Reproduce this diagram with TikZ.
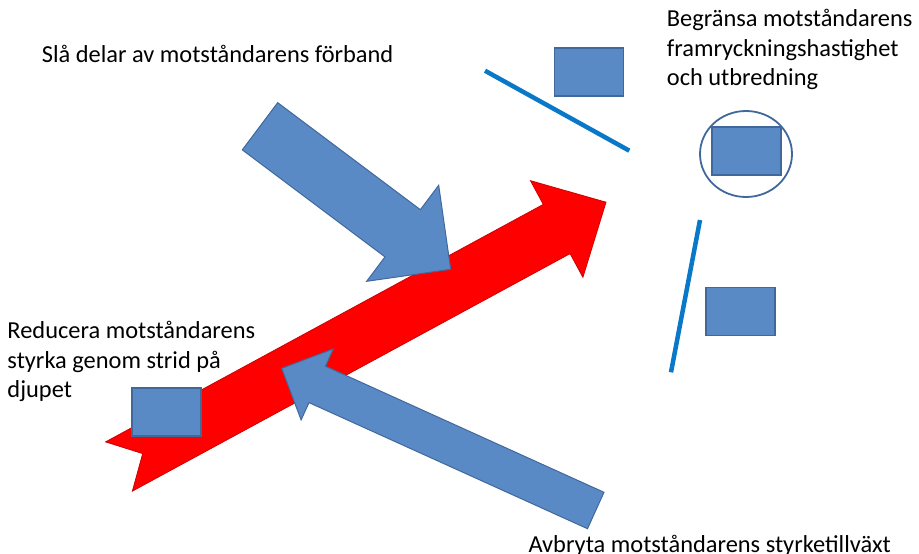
\documentclass[tikz,border=0pt]{standalone}
\usepackage{fontspec}
\setmainfont{Carlito}
\definecolor{blueF}{HTML}{5A8AC6}
\definecolor{blueD}{HTML}{41689B}
\definecolor{lineB}{HTML}{0A78C8}
\definecolor{redD}{HTML}{D00000}
\begin{document}
\begin{tikzpicture}[x=1pt,y=-1pt,
  redarrow/.style={fill=red, draw=redD, line width=0.8pt, line join=miter},
  bluearrow/.style={fill=blueF, draw=blueD, line width=1pt, line join=miter},
  unit/.style={fill=blueF, draw=blueD, line width=1.6pt, inner sep=0pt, minimum width=69pt, minimum height=48pt},
  ringstyle/.style={draw=blueD, line width=1.8pt},
  front/.style={draw=lineB, line width=4.5pt},
  lbl/.style={anchor=base west, inner sep=0pt, font=\fontsize{24.4}{29}\selectfont, text=black}]
\path[use as bounding box] (0,0) rectangle (919,554);
% red arrow
\coordinate (r1) at (105.6,441.9);
\coordinate (r2) at (543.3,204.4);
\coordinate (r3) at (530.5,180.7);
\coordinate (r4) at (606,202.2);
\coordinate (r5) at (582.9,277.3);
\coordinate (r6) at (570.1,253.6);
\coordinate (r7) at (132.4,491.1);
\coordinate (r8) at (142.7,453.6);
\draw[redarrow] (r1) -- (r2) -- (r3) -- (r4) -- (r5) -- (r6) -- (r7) -- (r8) -- cycle;
% blue arrow 1
\coordinate (a1) at (277.7,102.7);
\coordinate (a2) at (420.4,209.7);
\coordinate (a3) at (438.7,185.3);
\coordinate (a4) at (450.7,269.3);
\coordinate (a5) at (366.7,281.3);
\coordinate (a6) at (385,256.9);
\coordinate (a7) at (242.3,149.9);
\draw[bluearrow] (a1) -- (a2) -- (a3) -- (a4) -- (a5) -- (a6) -- (a7) -- cycle;
% blue arrow 2
\coordinate (b1) at (604,492.3);
\coordinate (b2) at (325.5,366.2);
\coordinate (b3) at (333.3,348.9);
\coordinate (b4) at (281.7,368.3);
\coordinate (b5) at (301.1,419.9);
\coordinate (b6) at (309,402.6);
\coordinate (b7) at (587.5,528.7);
\draw[bluearrow] (b1) -- (b2) -- (b3) -- (b4) -- (b5) -- (b6) -- (b7) -- cycle;
% units
\node[unit] (u1) at (588.8,71.9) {};
\node[unit] (u2) at (746.2,151.2) {};
\node[unit] (u3) at (740.4,311.5) {};
\node[unit] (u4) at (166.4,411.7) {};
\draw[ringstyle] (746,154) ellipse [x radius=46, y radius=43];
% front lines
\coordinate (f1a) at (485,70.7);
\coordinate (f1b) at (629.3,150.7);
\draw[front] (f1a) -- (f1b);
\coordinate (f2a) at (700,220);
\coordinate (f2b) at (671,372.3);
\draw[front] (f2a) -- (f2b);
% labels
\node[lbl] (t1) at (41.7,62.7) {Slå delar av motståndarens förband};
\node[lbl] (t2a) at (666.7,26.7) {Begränsa motståndarens};
\node[lbl] (t2b) at (666.7,56) {framryckningshastighet};
\node[lbl] (t2c) at (666.7,85) {och utbredning};
\node[lbl] (t3a) at (7.3,338.3) {Reducera motståndarens};
\node[lbl] (t3b) at (7.3,368.3) {styrka genom strid på};
\node[lbl] (t3c) at (7.3,397.3) {djupet};
\node[lbl] (t4) at (528.3,552) {Avbryta motståndarens styrketillväxt};
\end{tikzpicture}
\end{document}
